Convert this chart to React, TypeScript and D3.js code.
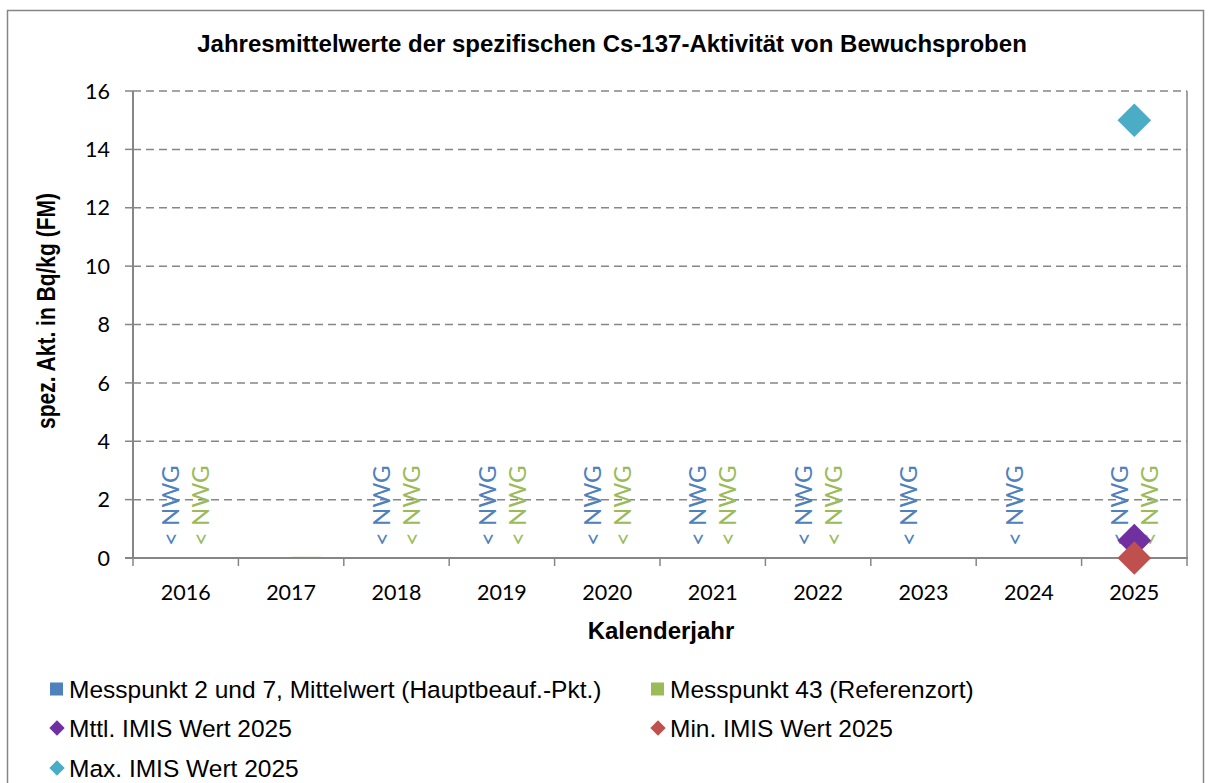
import React from "react";
import * as d3 from "d3";

// Kalenderjahre und Messwerte
const years = ["2016", "2017", "2018", "2019", "2020", "2021", "2022", "2023", "2024", "2025"];
const seriesNames = ["Messpunkt 2 und 7, Mittelwert (Hauptbeauf.-Pkt.)", "Messpunkt 43 (Referenzort)"];
const mp27Values = [0, null, 0, 0, 0, 0, 0, 0, 0, 0];
const mp43Values = [0, 0.04, 0, 0, 0, 0, 0, null, null, 0];
const mp27Labels = ["< NWG", "", "< NWG", "< NWG", "< NWG", "< NWG", "< NWG", "< NWG", "< NWG", "< NWG"];
const mp43Labels = ["< NWG", "", "< NWG", "< NWG", "< NWG", "< NWG", "< NWG", "", "", "< NWG"];
const imisYear = "2025";
const imisNames = ["Mttl. IMIS Wert 2025", "Min. IMIS Wert 2025", "Max. IMIS Wert 2025"];
const imisValues = [0.6, 0, 15];
const yTicks = [0, 2, 4, 6, 8, 10, 12, 14, 16];

const colors = {
  blue: "#4F81BD",
  green: "#9BBB59",
  purple: "#7030A0",
  red: "#C0504D",
  cyan: "#4BACC6",
  axis: "#868686",
};
const imisColors = [colors.purple, colors.red, colors.cyan];

const W = 1212;
const H = 783;
const plot = { left: 133, right: 1187, top: 91, bottom: 558 };

const App = () => {
  const x = d3.scaleBand().domain(years).range([plot.left, plot.right]).padding(0);
  const xs = d3
    .scaleBand()
    .domain(seriesNames)
    .range([0, x.bandwidth()])
    .paddingInner(0)
    .paddingOuter(0.76);
  const y = d3.scaleLinear().domain([0, 16]).range([plot.bottom, plot.top]);

  const tickFont = { fontFamily: "Lato, 'Open Sans', sans-serif" };
  const arial = { fontFamily: "Arial, 'Liberation Sans', Helvetica, sans-serif" };

  const diamond = d3.symbol().type(d3.symbolDiamond2);

  const barSeries = [
    { name: seriesNames[0], values: mp27Values, labels: mp27Labels, color: colors.blue },
    { name: seriesNames[1], values: mp43Values, labels: mp43Labels, color: colors.green },
  ];

  return (
    <svg width={W} height={H} style={{ position: "absolute", left: 0, top: 0, background: "#fff" }}>
      {/* Rahmen */}
      <rect x={7.5} y={10.5} width={1196} height={790} fill="#fff" stroke={colors.axis} strokeWidth={1.5} />

      <text x={612} y={52} textAnchor="middle" style={arial} fontWeight="bold" fontSize={24}>
        Jahresmittelwerte der spezifischen Cs-137-Aktivität von Bewuchsproben
      </text>

      {/* Gitterlinien */}
      {yTicks.filter((t) => t > 0).map((t) => (
        <line
          key={t}
          x1={plot.left}
          x2={plot.right}
          y1={y(t)}
          y2={y(t)}
          stroke={colors.axis}
          strokeWidth={1.5}
          strokeDasharray="8,5"
        />
      ))}
      <line x1={plot.right} x2={plot.right} y1={plot.top} y2={plot.bottom} stroke={colors.axis} strokeWidth={1.5} />

      {/* Balken */}
      {barSeries.map((s) =>
        s.values.map((v, i) =>
          v == null || v <= 0 ? null : (
            <rect
              key={s.name + i}
              x={x(years[i])! + xs(s.name)!}
              y={y(v)}
              width={xs.bandwidth()}
              height={y(0) - y(v)}
              fill={s.color}
            />
          )
        )
      )}

      {/* Achsen */}
      <line x1={plot.left} x2={plot.left} y1={plot.top} y2={plot.bottom} stroke={colors.axis} strokeWidth={2} />
      <line x1={plot.left - 8} x2={plot.right + 1} y1={plot.bottom} y2={plot.bottom} stroke={colors.axis} strokeWidth={2} />
      {yTicks.map((t) => (
        <g key={t}>
          <line x1={plot.left - 8} x2={plot.left} y1={y(t)} y2={y(t)} stroke={colors.axis} strokeWidth={1.5} />
          <text x={110} y={y(t)} dy="0.36em" textAnchor="end" style={tickFont} fontSize={21.5}>
            {t}
          </text>
        </g>
      ))}
      {years.map((yr) => (
        <g key={yr}>
          <line
            x1={x(yr)!}
            x2={x(yr)!}
            y1={plot.bottom}
            y2={plot.bottom + 8}
            stroke={colors.axis}
            strokeWidth={1.5}
          />
          <text x={x(yr)! + x.bandwidth() / 2} y={600} textAnchor="middle" style={tickFont} fontSize={21.5}>
            {yr}
          </text>
        </g>
      ))}
      <line x1={plot.right} x2={plot.right} y1={plot.bottom} y2={plot.bottom + 8} stroke={colors.axis} strokeWidth={1.5} />

      {/* NWG-Beschriftungen */}
      {barSeries.map((s) =>
        s.labels.map((lab, i) => {
          if (!lab) return null;
          const cx = x(years[i])! + xs(s.name)! + xs.bandwidth() / 2;
          const by = y(s.values[i] ?? 0) - 12;
          return (
            <text
              key={s.name + "l" + i}
              transform={`translate(${cx},${by}) rotate(-90)`}
              dy="0.36em"
              textAnchor="start"
              style={tickFont}
              fontSize={24}
              fill={s.color}
            >
              {lab}
            </text>
          );
        })
      )}

      {/* IMIS Werte 2025 */}
      {imisValues.map((v, i) => (
        <path
          key={imisNames[i]}
          d={diamond.size(720)()!}
          transform={`translate(${x(imisYear)! + x.bandwidth() / 2},${y(v)})`}
          fill={imisColors[i]}
        />
      ))}

      {/* Achsentitel */}
      <text
        transform={`translate(55,311) rotate(-90) scale(1,1.2)`}
        textAnchor="middle"
        style={arial}
        fontWeight="bold"
        fontSize={21}
      >
        spez. Akt. in Bq/kg (FM)
      </text>
      <text x={661} y={639} textAnchor="middle" style={arial} fontWeight="bold" fontSize={24}>
        Kalenderjahr
      </text>

      {/* Legende */}
      {[
        { label: seriesNames[0], color: colors.blue, shape: "square", lx: 50, ly: 689 },
        { label: seriesNames[1], color: colors.green, shape: "square", lx: 651, ly: 689 },
        { label: imisNames[0], color: colors.purple, shape: "diamond", lx: 50, ly: 728 },
        { label: imisNames[1], color: colors.red, shape: "diamond", lx: 651, ly: 728 },
        { label: imisNames[2], color: colors.cyan, shape: "diamond", lx: 50, ly: 768 },
      ].map((it) => (
        <g key={it.label}>
          {it.shape === "square" ? (
            <rect x={it.lx} y={it.ly - 6.5} width={13} height={13} fill={it.color} />
          ) : (
            <path d={diamond.size(150)()!} transform={`translate(${it.lx + 7},${it.ly})`} fill={it.color} />
          )}
          <text x={it.lx + 19} y={it.ly} dy="0.36em" style={arial} fontSize={24.5}>
            {it.label}
          </text>
        </g>
      ))}
    </svg>
  );
};

export default App;
